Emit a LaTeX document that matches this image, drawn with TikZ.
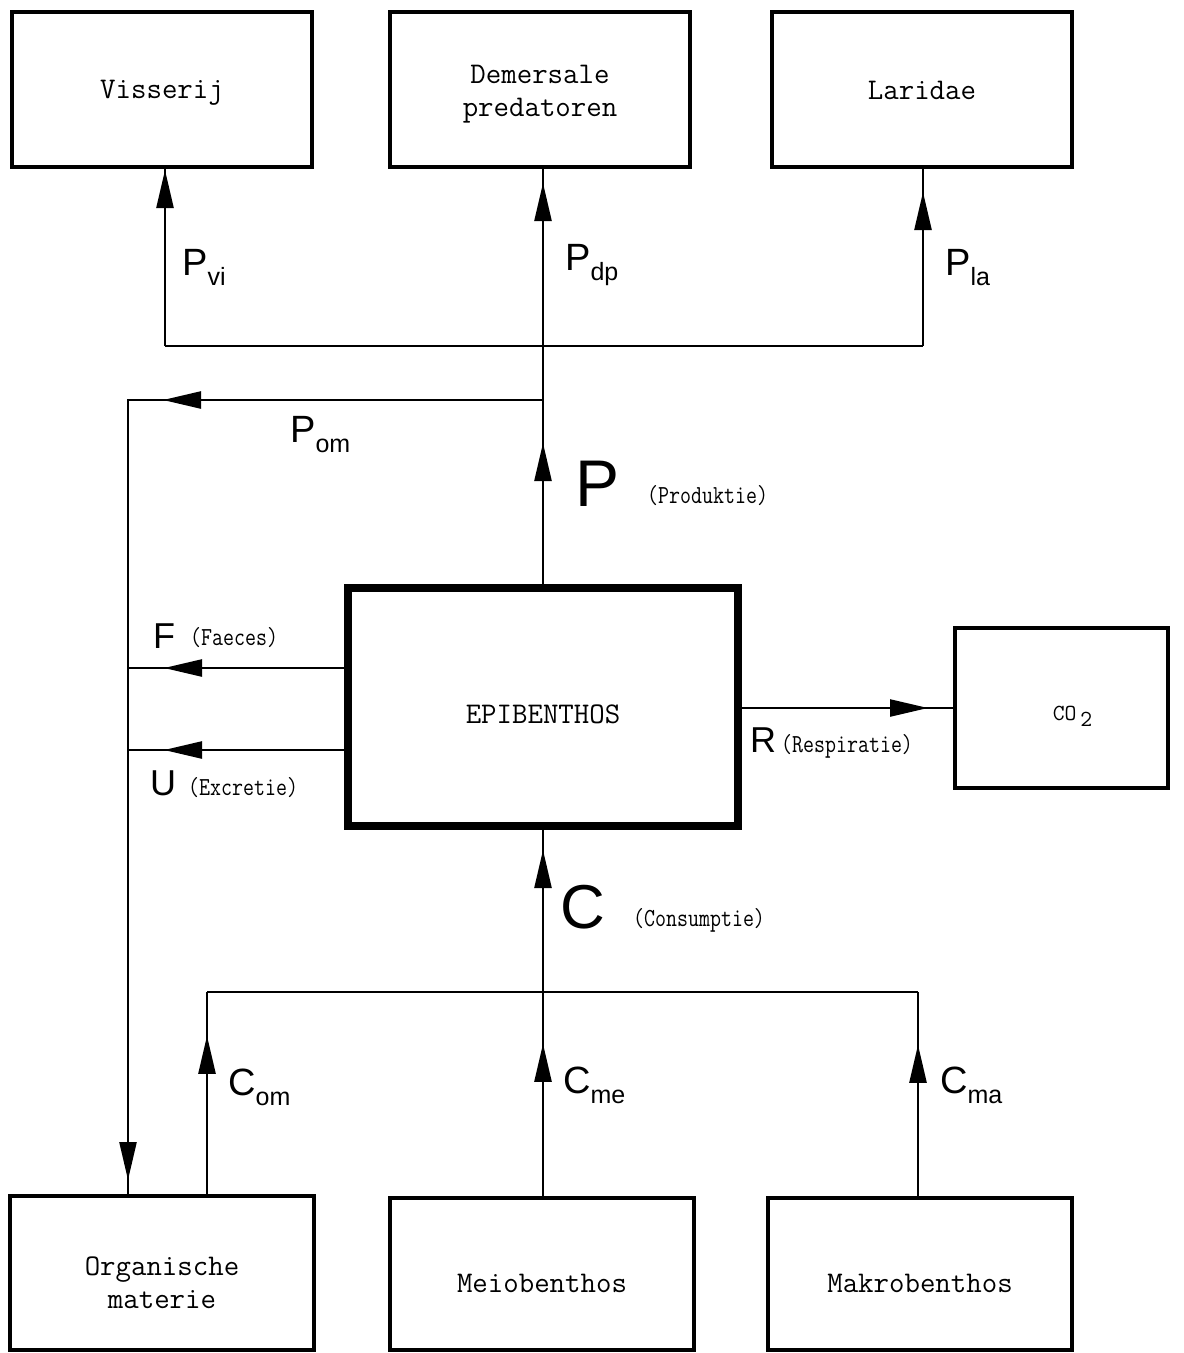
\documentclass[tikz,border=0pt]{standalone}
\usepackage{fontspec}
\usepackage{graphicx}
\newfontfamily\lab{Liberation Sans}
\usetikzlibrary{arrows.meta,decorations.markings}
\newcommand\boxfont{\fontsize{30}{33}\selectfont\ttfamily}
\newcommand\smallmono[1]{\scalebox{0.82}[1]{\fontsize{26}{26}\selectfont\ttfamily #1}}
\newcommand\midlab[2]{{\lab\fontsize{38}{38}\selectfont #1}\raisebox{-10pt}{\lab\fontsize{25}{25}\selectfont #2}}
\begin{document}
\begin{tikzpicture}[x=1pt,y=-1pt,
  box/.style={draw, line width=4.5pt, inner sep=0pt},
  tb/.style={font=\boxfont, align=center, yshift=-7pt},
  conn/.style={line width=2.4pt},
  Big/.tip={Triangle[length=38pt,width=17pt]},
  arrowat/.style={postaction={decorate,decoration={markings,mark=at position #1 with {\arrow{Big}}}}},
  lbl/.style={anchor=base west, inner sep=0pt}]
\useasboundingbox (0,0) rectangle (1184,1353);
% boxes
\node[box, minimum width=300pt, minimum height=155pt, label={[tb, yshift=4pt]center:Visserij}] (viss) at (162,89.5) {};
\node[box, minimum width=300pt, minimum height=155pt, label={[tb, yshift=2pt]center:Demersale\\predatoren}] (dem) at (540,89.5) {};
\node[box, minimum width=300pt, minimum height=155pt, label={[tb, yshift=6pt]center:Laridae}] (lar) at (922,89.5) {};
\node[box, line width=8pt, minimum width=390pt, minimum height=238pt, label={[tb]center:EPIBENTHOS}] (epi) at (543,707) {};
\node[box, minimum width=213pt, minimum height=160pt, label={[font=\fontsize{23}{23}\selectfont\ttfamily, xshift=11pt, yshift=-8pt]center:CO\,\raisebox{-6pt}{2}}] (co2) at (1061.5,708) {};
\node[box, minimum width=304pt, minimum height=154pt, label={[tb, yshift=-3pt]center:Organische\\materie}] (org) at (162,1273) {};
\node[box, minimum width=304pt, minimum height=152pt, label={[tb, yshift=-2pt]center:Meiobenthos}] (meio) at (542,1274) {};
\node[box, minimum width=304pt, minimum height=152pt, label={[tb, yshift=-2pt]center:Makrobenthos}] (makro) at (920,1274) {};
% junctions
\coordinate (vl) at (165,346);
\coordinate (vr) at (923,346);
\coordinate (j1) at (543,346);
\coordinate (j2) at (543,400);
\coordinate (jl) at (128,400);
\coordinate (fl) at (128,668);
\coordinate (ul) at (128,750);
\coordinate (bl) at (207,992);
\coordinate (br) at (918,992);
\coordinate (j3) at (543,992);
% top connectors
\draw[conn, arrowat=176pt] (vl) -- (vl |- viss.south);
\draw[conn, arrowat=154pt] (vr) -- (vr |- lar.south);
\draw[conn] (vl) -- (vr);
\draw[conn, arrowat=141pt, arrowat=401pt] (epi.north) -- (j2) -- (j1) -- (j1 |- dem.south);
\draw[conn, arrowat=380pt, arrowat=1195pt] (j2) -- (jl) -- (jl |- org.north);
% side connectors
\draw[conn, arrowat=180pt] (fl -| epi.west) -- (fl);
\draw[conn, arrowat=180pt] (ul -| epi.west) -- (ul);
\draw[conn, arrowat=186pt] (epi.east |- co2.west) -- (co2.west);
% bottom connectors
\draw[conn, arrowat=142pt] (j3) -- (epi.south);
\draw[conn] (bl) -- (br);
\draw[conn, arrowat=158pt] (bl |- org.north) -- (bl);
\draw[conn, arrowat=152pt] (j3 |- meio.north) -- (j3);
\draw[conn, arrowat=151pt] (br |- makro.north) -- (br);
% labels
\node[lbl] (lpvi) at (182,275) {\midlab{P}{vi}};
\node[lbl] (lpdp) at (565,270) {\midlab{P}{dp}};
\node[lbl] (lpla) at (945,275) {\midlab{P}{la}};
\node[lbl] (lpom) at (290,442) {\midlab{P}{om}};
\node[lbl] (lp) at (575,506) {\lab\fontsize{66}{66}\selectfont P};
\node[lbl] (lprod) at (647,503) {\smallmono{(Produktie)}};
\node[lbl] (lf) at (153,648) {\lab\fontsize{36}{36}\selectfont F};
\node[lbl] (lfae) at (190,645) {\smallmono{(Faeces)}};
\node[lbl] (lu) at (150,795) {\lab\fontsize{36}{36}\selectfont U};
\node[lbl] (lexc) at (188,795) {\smallmono{(Excretie)}};
\node[lbl] (lr) at (750,752) {\lab\fontsize{36}{36}\selectfont R};
\node[lbl] (lresp) at (781,752) {\smallmono{(Respiratie)}};
\node[lbl] (lc) at (560,928) {\lab\fontsize{62}{62}\selectfont C};
\node[lbl] (lcons) at (633,926) {\smallmono{(Consumptie)}};
\node[lbl] (lcom) at (228,1095) {\midlab{C}{om}};
\node[lbl] (lcme) at (563,1093) {\midlab{C}{me}};
\node[lbl] (lcma) at (940,1093) {\midlab{C}{ma}};
\end{tikzpicture}
\end{document}
